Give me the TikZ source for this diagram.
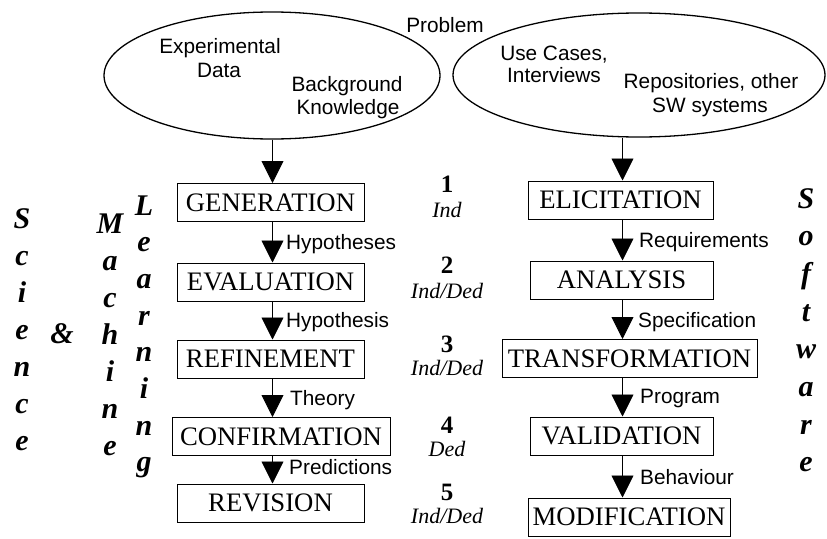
\documentclass[tikz,border=0pt]{standalone}
\usepackage{fontspec}
\setmainfont{Liberation Serif}
\newfontfamily\arialf{Liberation Sans}
\usetikzlibrary{shapes.geometric,arrows.meta}
\tikzset{
  stage/.style={draw, line width=1pt, rectangle, inner sep=0pt, minimum height=38pt, font=\fontsize{26.7}{30}\selectfont},
  lbl/.style={font=\arialf\fontsize{20.8}{24}\selectfont, inner sep=0pt, anchor=west},
  etxt/.style={font=\arialf\fontsize{20.8}{24}\selectfont, inner sep=0pt, anchor=base},
  num/.style={font=\bfseries\fontsize{25}{28}\selectfont, inner sep=0pt, anchor=base},
  mode/.style={font=\itshape\fontsize{22}{25}\selectfont, inner sep=0pt, anchor=base},
  vlet/.style={font=\bfseries\itshape\fontsize{30}{36}\selectfont, inner sep=0pt, anchor=base},
  flow/.style={-{Triangle[length=22pt,width=22pt]}, line width=0.9pt},
  cloud/.style={ellipse, draw, line width=1.3pt, inner sep=0pt}
}
\begin{document}
\begin{tikzpicture}[x=1pt,y=-1pt]
\useasboundingbox (0,0) rectangle (827,538);
% ellipses
\node[cloud, minimum width=336pt, minimum height=127pt] (le) at (272,75.5) {};
\node[cloud, minimum width=372pt, minimum height=124pt] (re) at (639,75) {};
\node[etxt] (t1) at (220,53) {Experimental};
\node[etxt] (t2) at (219,77) {Data};
\node[etxt] (t3) at (347,91) {Background};
\node[etxt] (t4) at (348,114) {Knowledge};
\node[etxt] (prob) at (445,32) {Problem};
\node[etxt] (t5) at (554,60) {Use Cases,};
\node[etxt] (t6) at (554,82) {Interviews};
\node[etxt] (t7) at (711,88) {Repositories, other};
\node[etxt] (t8) at (710,112) {SW systems};
% arrow columns
\coordinate (lx) at (272.5,0);
\coordinate (rx) at (622.5,0);
% left column
\node[stage, minimum width=187pt] (gen) at (270.5,202.5) {GENERATION};
\node[stage, minimum width=187pt] (eva) at (270.5,282) {EVALUATION};
\node[stage, minimum width=187pt] (ref) at (270.5,359) {REFINEMENT};
\node[stage, minimum width=218pt] (con) at (281,436.5) {CONFIRMATION};
\node[stage, minimum width=187pt] (rev) at (270.5,503) {REVISION};
% right column
\node[stage, minimum width=185pt] (eli) at (620.5,200) {ELICITATION};
\node[stage, minimum width=183pt] (ana) at (621.5,280) {ANALYSIS};
\node[stage, minimum width=255pt] (tra) at (629.5,358.5) {TRANSFORMATION};
\node[stage, minimum width=183pt] (val) at (621.5,436) {VALIDATION};
\node[stage, minimum width=202pt] (mod) at (629,517) {MODIFICATION};
% connectors left
\draw[flow] (le.south -| lx) -- (gen.north -| lx);
\draw[flow] (gen.south -| lx) -- (eva.north -| lx);
\draw[flow] (eva.south -| lx) -- (ref.north -| lx);
\draw[flow] (ref.south -| lx) -- (con.north -| lx);
\draw[flow] (con.south -| lx) -- (rev.north -| lx);
% connectors right
\draw[flow] (re.south -| rx) -- (eli.north -| rx);
\draw[flow] (eli.south -| rx) -- (ana.north -| rx);
\draw[flow] (ana.south -| rx) -- (tra.north -| rx);
\draw[flow] (tra.south -| rx) -- (val.north -| rx);
\draw[flow] (val.south -| rx) -- (mod.north -| rx);
% connector labels
\node[lbl] (l1) at (286,244) {Hypotheses};
\node[lbl] (l2) at (286,322) {Hypothesis};
\node[lbl] (l3) at (290,400) {Theory};
\node[lbl] (l4) at (289,467) {Predictions};
\node[lbl] (r1) at (639,242) {Requirements};
\node[lbl] (r2) at (638,322) {Specification};
\node[lbl] (r3) at (640,398) {Program};
\node[lbl] (r4) at (640,477) {Behaviour};
% numbers
\node[num] (n1) at (447,192) {1};
\node[mode] (m1) at (447,217) {Ind};
\node[num] (n2) at (447,273) {2};
\node[mode] (m2) at (447,298) {Ind/Ded};
\node[num] (n3) at (447,352) {3};
\node[mode] (m3) at (447,375) {Ind/Ded};
\node[num] (n4) at (447,433) {4};
\node[mode] (m4) at (447,456) {Ded};
\node[num] (n5) at (447,500) {5};
\node[mode] (m5) at (447,523) {Ind/Ded};
% vertical words
\foreach \c [count=\i from 0] in {S,c,i,e,n,c,e}
  \node[vlet] (sci\i) at (22,{228+37*\i}) {\c};
\node[vlet] (amp) at (62,343) {\&};
\foreach \c [count=\i from 0] in {M,a,c,h,i,n,e}
  \node[vlet] (mac\i) at (110,{233+37*\i}) {\c};
\foreach \c [count=\i from 0] in {L,e,a,r,n,i,n,g}
  \node[vlet] (lea\i) at (144,{215+36.7*\i}) {\c};
\foreach \c [count=\i from 0] in {S,o,f,t,w,a,r,e}
  \node[vlet] (sof\i) at (806,{208+37.7*\i}) {\c};
\end{tikzpicture}
\end{document}
